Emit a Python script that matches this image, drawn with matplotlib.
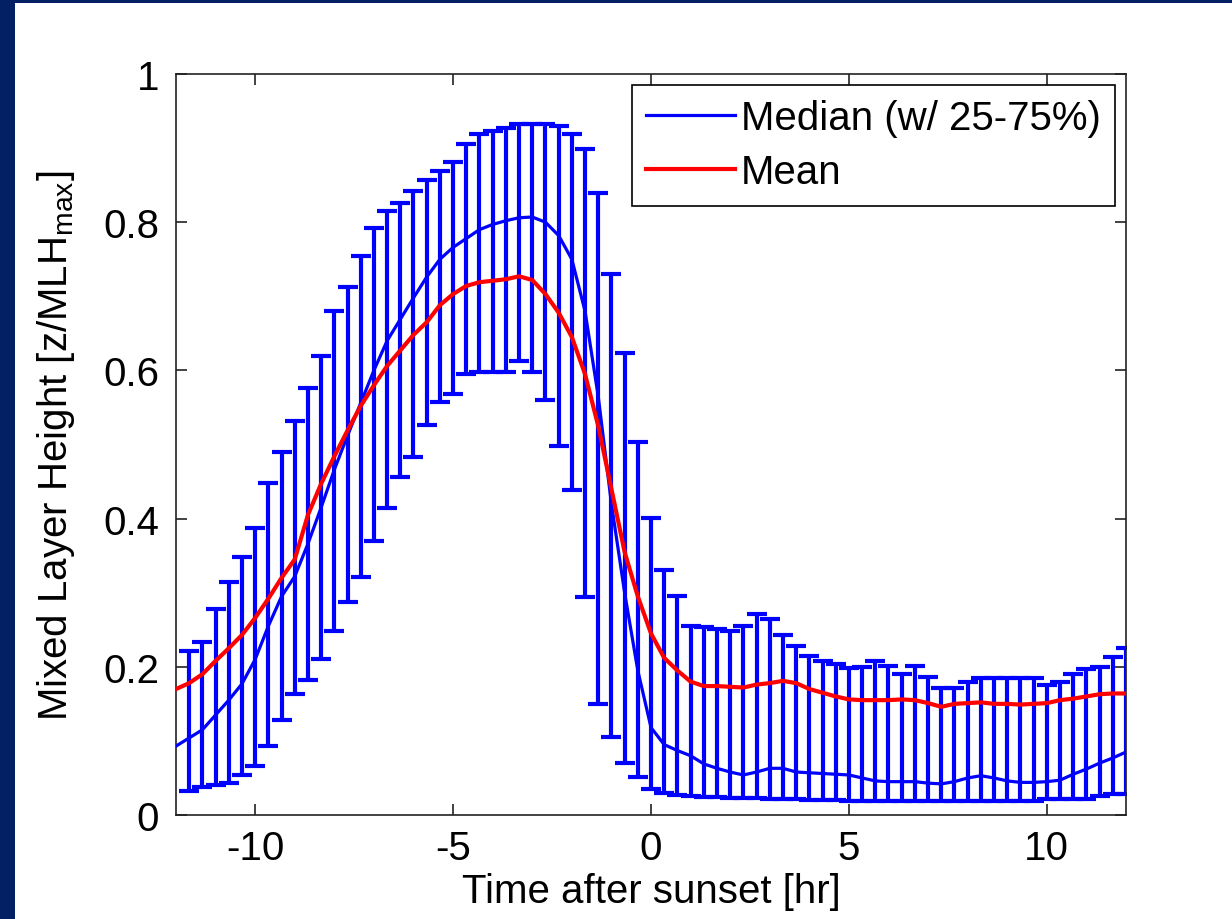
import numpy as np
import matplotlib.pyplot as plt
from matplotlib.patches import Rectangle

# ======================
# data
# ======================
# lines every 20 min from -12 to 12 hr
t_line = np.linspace(-12, 12, 73)

median = [
    0.093, 0.104, 0.115, 0.135, 0.155, 0.177, 0.210, 0.255, 0.295, 0.322,
    0.366, 0.415, 0.466, 0.512, 0.556, 0.600, 0.640, 0.669, 0.698, 0.726,
    0.750, 0.766, 0.778, 0.790, 0.797, 0.802, 0.806, 0.807, 0.800, 0.782,
    0.750, 0.680, 0.565, 0.420, 0.300, 0.195, 0.118, 0.095, 0.087, 0.080,
    0.069, 0.063, 0.058, 0.054, 0.058, 0.063, 0.063, 0.058, 0.057, 0.056,
    0.055, 0.054, 0.050, 0.046, 0.045, 0.045, 0.045, 0.043, 0.042, 0.045,
    0.050, 0.053, 0.050, 0.046, 0.044, 0.044, 0.045, 0.047, 0.055, 0.062,
    0.070, 0.077, 0.085,
]

mean = [
    0.170, 0.178, 0.190, 0.208, 0.225, 0.243, 0.266, 0.292, 0.320, 0.345,
    0.405, 0.447, 0.484, 0.519, 0.552, 0.580, 0.606, 0.627, 0.648, 0.665,
    0.688, 0.703, 0.714, 0.719, 0.721, 0.723, 0.727, 0.722, 0.703, 0.678,
    0.645, 0.595, 0.525, 0.440, 0.355, 0.295, 0.245, 0.212, 0.195, 0.180,
    0.174, 0.174, 0.173, 0.172, 0.176, 0.178, 0.181, 0.178, 0.170, 0.165,
    0.160, 0.156, 0.155, 0.155, 0.155, 0.156, 0.155, 0.151, 0.146, 0.150,
    0.151, 0.152, 0.150, 0.150, 0.149, 0.150, 0.151, 0.155, 0.157, 0.160,
    0.163, 0.164, 0.164,
]

# error bars (25-75 %) from -11.67 to 12 hr
t_bar = t_line[1:]

q75 = [
    0.221, 0.233, 0.278, 0.314, 0.348, 0.387, 0.448, 0.490, 0.532, 0.576,
    0.620, 0.680, 0.713, 0.754, 0.792, 0.815, 0.826, 0.842, 0.857, 0.869,
    0.881, 0.905, 0.919, 0.923, 0.927, 0.932, 0.933, 0.932, 0.930, 0.919,
    0.899, 0.839, 0.730, 0.623, 0.503, 0.401, 0.331, 0.296, 0.255, 0.254,
    0.251, 0.248, 0.255, 0.271, 0.264, 0.243, 0.228, 0.214, 0.208, 0.204,
    0.199, 0.200, 0.208, 0.201, 0.190, 0.201, 0.186, 0.172, 0.172, 0.179,
    0.185, 0.185, 0.185, 0.185, 0.185, 0.175, 0.179, 0.190, 0.197, 0.200,
    0.213, 0.225,
]

q25 = [
    0.032, 0.038, 0.041, 0.043, 0.054, 0.066, 0.093, 0.128, 0.163, 0.182,
    0.211, 0.248, 0.287, 0.321, 0.370, 0.414, 0.456, 0.483, 0.526, 0.557,
    0.568, 0.595, 0.598, 0.598, 0.598, 0.613, 0.598, 0.560, 0.498, 0.438,
    0.294, 0.150, 0.105, 0.070, 0.051, 0.035, 0.030, 0.027, 0.025, 0.024,
    0.024, 0.023, 0.023, 0.023, 0.022, 0.022, 0.021, 0.020, 0.020, 0.020,
    0.019, 0.019, 0.019, 0.019, 0.019, 0.019, 0.019, 0.019, 0.019, 0.019,
    0.019, 0.019, 0.019, 0.019, 0.019, 0.022, 0.022, 0.022, 0.022, 0.026,
    0.028, 0.028,
]

x_ticks = [-10, -5, 0, 5, 10]
x_ticklabels = ["-10", "-5", "0", "5", "10"]
y_ticks = [0, 0.2, 0.4, 0.6, 0.8, 1]
y_ticklabels = ["0", "0.2", "0.4", "0.6", "0.8", "1"]


# ======================
# style
# ======================
plt.rcParams["font.family"] = ["Liberation Sans", "DejaVu Sans"]
plt.rcParams["mathtext.fontset"] = "custom"
plt.rcParams["mathtext.rm"] = "Liberation Sans"
plt.rcParams["mathtext.it"] = "Liberation Sans"
fs = 29


# ======================
# figure
# ======================
fig = plt.figure(figsize=(12.32, 9.20), dpi=100)
fig.patch.set_facecolor("white")

navy = "#022063"
fig.patches.append(Rectangle((0, 0), 15 / 1232, 1, transform=fig.transFigure,
                             facecolor=navy, edgecolor="none", zorder=0))
fig.patches.append(Rectangle((0, 1 - 4 / 920), 1, 4 / 920, transform=fig.transFigure,
                             facecolor=navy, edgecolor="none", zorder=0))

ax = fig.add_axes([176 / 1232, 104 / 920, 950 / 1232, 741 / 920])

lo = np.array(q25)
hi = np.array(q75)
mid = (lo + hi) / 2

ax.errorbar(
    t_bar,
    mid,
    yerr=[mid - lo, hi - mid],
    fmt="none",
    ecolor="#0000ff",
    elinewidth=3.0,
    capsize=7.5,
    capthick=3.0,
    zorder=2,
)

ax.plot(t_line, median, color="#0000ff", lw=2.3, label="Median (w/ 25-75%)", zorder=3)
ax.plot(t_line, mean, color="#ff0000", lw=3.0, label="Mean", zorder=4)

ax.set_xlim(-12, 12)
ax.set_ylim(0, 1)
ax.set_xticks(x_ticks)
ax.set_xticklabels(x_ticklabels)
ax.set_yticks(y_ticks)
ax.set_yticklabels(y_ticklabels)

ax.tick_params(direction="in", length=8, width=1.2, labelsize=fs,
               top=True, right=True, color="#222222")
ax.tick_params(axis="x", pad=10)
ax.tick_params(axis="y", pad=12)
for s in ax.spines.values():
    s.set_linewidth(1.2)
    s.set_color("#222222")

ax.set_xlabel("Time after sunset [hr]", fontsize=fs, labelpad=4)
ax.set_ylabel(r"Mixed Layer Height [z/MLH$_{\mathrm{max}}$]", fontsize=fs, labelpad=19)

leg = ax.legend(
    loc="upper right",
    fontsize=fs,
    frameon=True,
    fancybox=False,
    edgecolor="black",
    framealpha=1,
    handlelength=2.2,
    handletextpad=0.15,
    labelspacing=0.4,
    borderpad=0.35,
    borderaxespad=0.28,
)
leg.get_frame().set_linewidth(1.2)

plt.savefig("out.png", dpi=100, facecolor=fig.get_facecolor())
plt.close()
